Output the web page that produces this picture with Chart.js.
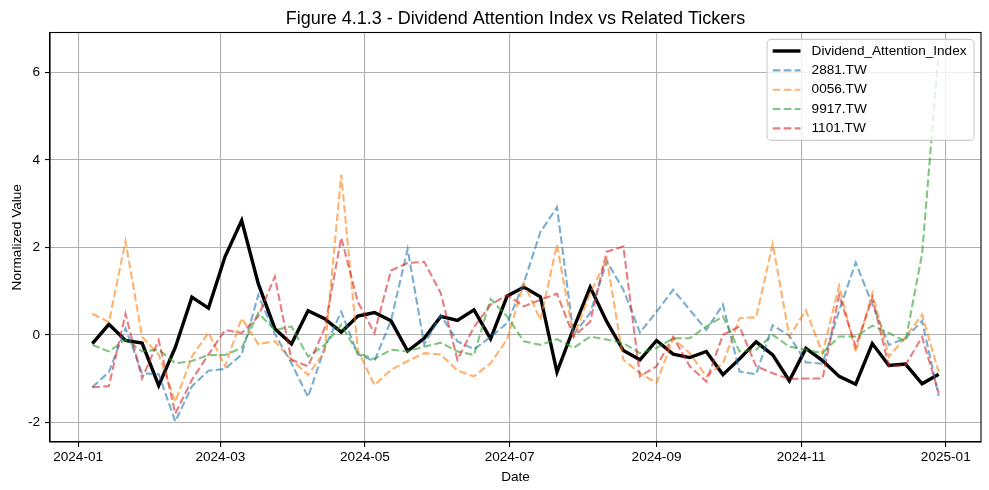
<!DOCTYPE html>
<html><head><meta charset="utf-8">
<script src="https://cdn.jsdelivr.net/npm/chart.js@4.4.1/dist/chart.umd.min.js"></script>
<style>html,body{margin:0;padding:0;background:#fff;}#wrap{width:989px;height:490px;}</style>
</head><body><div id="wrap"><canvas id="c" width="989" height="490"></canvas></div>
<script>
const dates = [
 '2024-01-07','2024-01-14','2024-01-21','2024-01-28','2024-02-04','2024-02-11','2024-02-18','2024-02-25',
 '2024-03-03','2024-03-10','2024-03-17','2024-03-24','2024-03-31','2024-04-07','2024-04-14','2024-04-21',
 '2024-04-28','2024-05-05','2024-05-12','2024-05-19','2024-05-26','2024-06-02','2024-06-09','2024-06-16',
 '2024-06-23','2024-06-30','2024-07-07','2024-07-14','2024-07-21','2024-07-28','2024-08-04','2024-08-11',
 '2024-08-18','2024-08-25','2024-09-01','2024-09-08','2024-09-15','2024-09-22','2024-09-29','2024-10-06',
 '2024-10-13','2024-10-20','2024-10-27','2024-11-03','2024-11-10','2024-11-17','2024-11-24','2024-12-01',
 '2024-12-08','2024-12-15','2024-12-22','2024-12-29'];
const dividendAttention = [
 -0.20, 0.24,-0.13,-0.19,-1.16,-0.29, 0.86, 0.61, 1.79, 2.61, 1.17, 0.14,-0.21,
  0.55, 0.37, 0.06, 0.43, 0.51, 0.32,-0.37,-0.08, 0.42, 0.33, 0.57,-0.09, 0.89,
  1.09, 0.87,-0.85, 0.15, 1.09, 0.30,-0.36,-0.57,-0.13,-0.44,-0.52,-0.38,-0.91,
 -0.55,-0.16,-0.46,-1.05,-0.31,-0.59,-0.95,-1.13,-0.20,-0.70,-0.67,-1.12,-0.90];
const t2881 = [
 -1.20,-0.85, 0.15,-0.88,-0.90,-1.98,-1.18,-0.82,-0.78,-0.45, 0.91, 0.02,-0.65,
 -1.42,-0.30, 0.53,-0.45,-0.60, 0.33, 1.96,-0.22, 0.45,-0.15,-0.33,-0.05, 0.27,
  1.18, 2.35, 2.92, 0.00, 0.50, 1.68, 1.03, 0.05, 0.53, 1.03, 0.57, 0.11, 0.69,
 -0.84,-0.90, 0.22,-0.02,-0.63,-0.66, 0.55, 1.65, 0.70,-0.23,-0.08, 0.32,-1.40];
const t0056 = [
  0.48, 0.29, 2.14,-0.05,-0.45,-1.53,-0.50, 0.05,-0.72, 0.38,-0.21,-0.15,-0.57,
 -0.92,-0.38, 3.66,-0.35,-1.15,-0.80,-0.60,-0.42,-0.45,-0.82,-0.95,-0.65,-0.10,
  1.18, 0.34, 2.06,-0.04, 0.95, 1.73,-0.57,-0.88,-1.10,-0.08,-0.42,-0.95,-0.65,
  0.38, 0.40, 2.08,-0.04, 0.56,-0.42, 1.12,-0.40, 0.95,-0.50,-0.05, 0.46,-0.85];
const t9917 = [
 -0.23,-0.38,-0.11,-0.38,-0.34,-0.65,-0.60,-0.46,-0.46,-0.30, 0.50, 0.11, 0.19,
 -0.50,-0.23, 0.23,-0.42,-0.55,-0.34,-0.38,-0.27,-0.18,-0.38,-0.46, 0.82, 0.42,
 -0.15,-0.23,-0.10,-0.30,-0.04,-0.11,-0.19,-0.42,-0.30,-0.08,-0.08, 0.19, 0.42,
 -0.38,-0.34, 0.00,-0.27,-0.34,-0.42,-0.04,-0.04, 0.21, 0.04,-0.15, 1.85, 6.49];
const t1101 = [
 -1.20,-1.17, 0.48,-1.00,-0.12,-1.80,-1.03,-0.45, 0.11, 0.04, 0.42, 1.33,-0.57,
 -0.72, 0.15, 2.22, 0.75, 0.04, 1.47, 1.64, 1.67, 0.95,-0.57, 0.18, 0.69, 0.91,
  0.65, 0.80, 0.94,-0.04, 0.30, 1.90, 2.02,-0.95,-0.72,-0.05,-0.72,-1.07, 0.00,
  0.19,-0.72,-0.88,-1.01,-1.00,-1.00, 0.91,-0.27, 0.84,-0.72,-0.69,-0.05,-1.33];
const seriesLabels = ['Dividend_Attention_Index','2881.TW','0056.TW','9917.TW','1101.TW'];
const xTickLabels = ['2024-01','2024-03','2024-05','2024-07','2024-09','2024-11','2025-01'];
const yTickValues = [-2, 0, 2, 4, 6];
const titleText = 'Figure 4.1.3 - Dividend Attention Index vs Related Tickers';
const xAxisTitle = 'Date';
const yAxisTitle = 'Normalized Value';

const FONT = '"Liberation Sans", Arial, Helvetica, sans-serif';
const DAY = 86400000;
const BASE = Date.parse('2024-01-01');
const toDay = s => (Date.parse(s) - BASE) / DAY;
const xs = dates.map(toDay);
const span = xs[xs.length - 1] - xs[0];
const pts = arr => xs.map((x, i) => ({x: x, y: arr[i]}));

const seriesValues = [dividendAttention, t2881, t0056, t9917, t1101];
const seriesColors = ['#000000', 'rgba(31,119,180,0.6)', 'rgba(255,127,14,0.6)', 'rgba(44,160,44,0.6)', 'rgba(214,39,40,0.6)'];
const datasets = seriesValues.map((arr, k) => ({
  label: seriesLabels[k],
  data: pts(arr),
  borderColor: seriesColors[k],
  backgroundColor: seriesColors[k],
  borderWidth: k === 0 ? 3.4 : 2.1,
  borderDash: k === 0 ? [] : [7.7, 3.3],
  pointRadius: 0,
  tension: 0,
  fill: false,
  order: seriesValues.length - k
}));

const decor = {
  id: 'decor',
  afterDraw(chart) {
    const ctx = chart.ctx, a = chart.chartArea;
    ctx.save();
    ctx.strokeStyle = '#000'; ctx.lineWidth = 1.1;
    ctx.strokeRect(a.left, a.top, a.right - a.left, a.bottom - a.top);
    ctx.fillStyle = '#000';
    ctx.font = '18px ' + FONT;
    ctx.textAlign = 'center'; ctx.textBaseline = 'alphabetic';
    const cx = (a.left + a.right) / 2;
    ctx.fillText(titleText, cx, a.top - 8.3);
    ctx.font = '13.6px ' + FONT;
    ctx.fillText(xAxisTitle, cx, 481);
    ctx.save();
    ctx.translate(20.5, (a.top + a.bottom) / 2);
    ctx.rotate(-Math.PI / 2);
    ctx.fillText(yAxisTitle, 0, 0);
    ctx.restore();
    ctx.font = '13.6px ' + FONT;
    let maxW = 0;
    chart.data.datasets.forEach(d => { maxW = Math.max(maxW, ctx.measureText(d.label).width); });
    const pad = 5.6, hl = 27.8, htp = 11.1;
    const right = a.right - 6.9, top = a.top + 6.9;
    const w = pad + hl + htp + maxW + pad + 2;
    const left = right - w;
    const rowDy = 19.35, h = 101;
    ctx.beginPath();
    if (ctx.roundRect) ctx.roundRect(left, top, w, h, 4); else ctx.rect(left, top, w, h);
    ctx.fillStyle = 'rgba(255,255,255,0.8)';
    ctx.fill();
    ctx.strokeStyle = '#cccccc'; ctx.lineWidth = 1.1;
    ctx.stroke();
    chart.data.datasets.forEach((d, k) => {
      const y = top + 11.6 + k * rowDy;
      ctx.beginPath();
      ctx.setLineDash(d.borderDash || []);
      ctx.strokeStyle = d.borderColor; ctx.lineWidth = d.borderWidth;
      ctx.moveTo(left + pad, y); ctx.lineTo(left + pad + hl, y);
      ctx.stroke();
      ctx.setLineDash([]);
      ctx.fillStyle = '#000'; ctx.textAlign = 'left'; ctx.textBaseline = 'middle';
      ctx.fillText(d.label, left + pad + hl + htp, y);
    });
    ctx.restore();
  }
};

new Chart(document.getElementById('c'), {
  type: 'line',
  data: { datasets: datasets },
  options: {
    responsive: false,
    animation: false,
    events: [],
    layout: { padding: { left: 0, right: 8, top: 32.5, bottom: 0 } },
    plugins: { legend: { display: false }, title: { display: false }, tooltip: { enabled: false } },
    scales: {
      x: {
        type: 'linear',
        min: xs[0] - 0.05 * span,
        max: xs[xs.length - 1] + 0.05 * span,
        afterBuildTicks: s => { s.ticks = xTickLabels.map(l => ({ value: toDay(l + '-01') })); },
        afterFit: s => { s.height = 48; },
        ticks: { callback: (v, i) => xTickLabels[i], color: '#000', font: { family: FONT, size: 13.6 }, padding: 2, maxRotation: 0, autoSkip: false },
        grid: { color: '#b0b0b0', lineWidth: 1.1, tickColor: '#000', tickLength: 5, tickWidth: 1.1, drawTicks: true },
        border: { display: true, color: '#000', width: 1.1 }
      },
      y: {
        type: 'linear',
        min: -2.45,
        max: 6.91,
        afterBuildTicks: s => { s.ticks = yTickValues.map(v => ({ value: v })); },
        afterFit: s => { s.width = 50; },
        ticks: { callback: v => String(v), color: '#000', font: { family: FONT, size: 13.6 }, padding: 5, autoSkip: false },
        grid: { color: '#b0b0b0', lineWidth: 1.1, tickColor: '#000', tickLength: 5, tickWidth: 1.1, drawTicks: true },
        border: { display: true, color: '#000', width: 1.1 }
      }
    }
  },
  plugins: [decor]
});
</script></body></html>
